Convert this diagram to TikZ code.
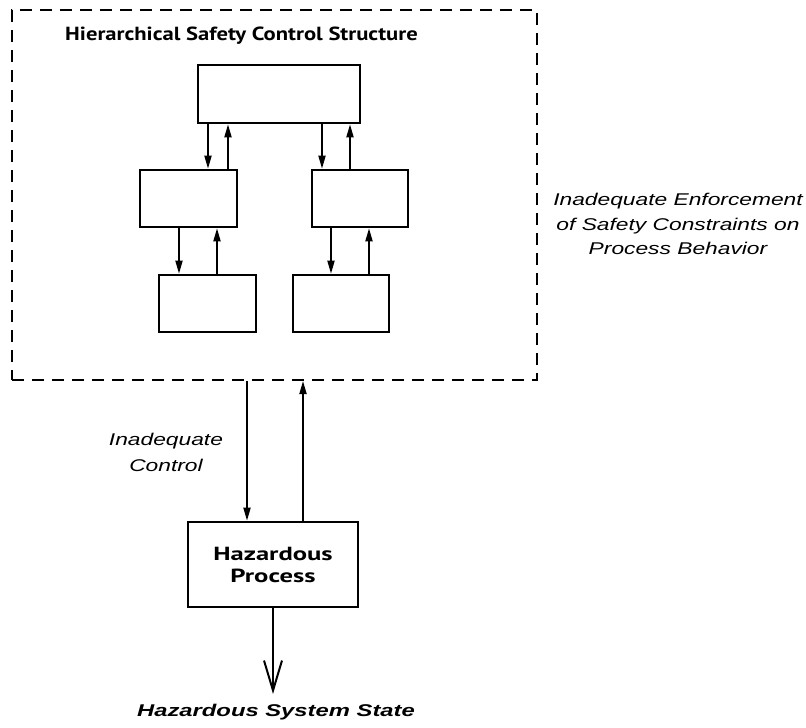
\documentclass[tikz,border=0pt]{standalone}
\usepackage{fontspec}
\setmainfont{Liberation Sans}
\newfontfamily\titlefont[FakeStretch=1.19]{PT Sans}
\newfontfamily\procfont[FakeStretch=1.40]{PT Sans}
\newfontfamily\itlfont[FakeStretch=1.34]{Liberation Sans}
\newfontfamily\statefont[FakeStretch=1.40]{Liberation Sans}
\usetikzlibrary{arrows.meta}
\begin{document}
\begin{tikzpicture}[x=1pt,y=-1pt,
  blk/.style={draw, line width=2.6pt, inner sep=0pt, minimum width=97pt, minimum height=57pt},
  arr/.style={line width=1.8pt, -{Triangle[length=13pt,width=7pt]}},
  frm/.style={draw, line width=2pt, dash pattern=on 12pt off 8pt, inner sep=0pt},
  ttl/.style={font=\titlefont\bfseries\fontsize{19}{22}\selectfont},
  itl/.style={font=\itlfont\itshape\fontsize{17}{24.5}\selectfont, align=center}]
\useasboundingbox (0,0) rectangle (806,728);
\node[frm, minimum width=525pt, minimum height=370pt] (frame) at (274.5,195) {};
\node[ttl] (title) at (241.5,36) {Hierarchical Safety Control Structure};
\node[blk, minimum width=162pt, minimum height=58pt] (top) at (279,94) {};
\node[blk] (ml) at (188.5,198.5) {};
\node[blk, minimum width=96pt] (mr) at (360,198.5) {};
\node[blk] (bl) at (207.5,303.5) {};
\node[blk, minimum width=96pt] (br) at (341,303.5) {};
\node[blk, minimum width=170pt, minimum height=85pt, align=center,
  font=\procfont\bfseries\fontsize{19}{23}\selectfont] (hp) at (273,564.5) {Hazardous\\[-1pt]Process};
% arrows top -> middle
\draw[arr] (top.south -| 208,0) -- (ml.north -| 208,0);
\draw[arr] (ml.north -| 228,0) -- (top.south -| 228,0);
\draw[arr] (top.south -| 322,0) -- (mr.north -| 322,0);
\draw[arr] (mr.north -| 350,0) -- (top.south -| 350,0);
% middle -> bottom
\draw[arr] (ml.south -| 179,0) -- (bl.north -| 179,0);
\draw[arr] (bl.north -| 217,0) -- (ml.south -| 217,0);
\draw[arr] (mr.south -| 331,0) -- (br.north -| 331,0);
\draw[arr] (br.north -| 369,0) -- (mr.south -| 369,0);
% frame <-> hazardous process
\draw[arr] (frame.south -| 247,0) -- (hp.north -| 247,0);
\draw[arr] (hp.north -| 303,0) -- (frame.south -| 303,0);
% output
\coordinate (outend) at (273,694);
\draw[line width=2pt, -{Straight Barb[length=30pt,width=18pt]}] (hp.south) -- (outend);
\node[font=\statefont\bfseries\itshape\fontsize{17}{20}\selectfont] (state) at (276,712) {Hazardous System State};
\node[itl, font=\itlfont\itshape\fontsize{17}{26}\selectfont] (ctrl) at (166,452) {Inadequate\\Control};
\node[itl] (enf) at (678,224) {Inadequate Enforcement\\of Safety Constraints on\\Process Behavior};
\end{tikzpicture}
\end{document}
